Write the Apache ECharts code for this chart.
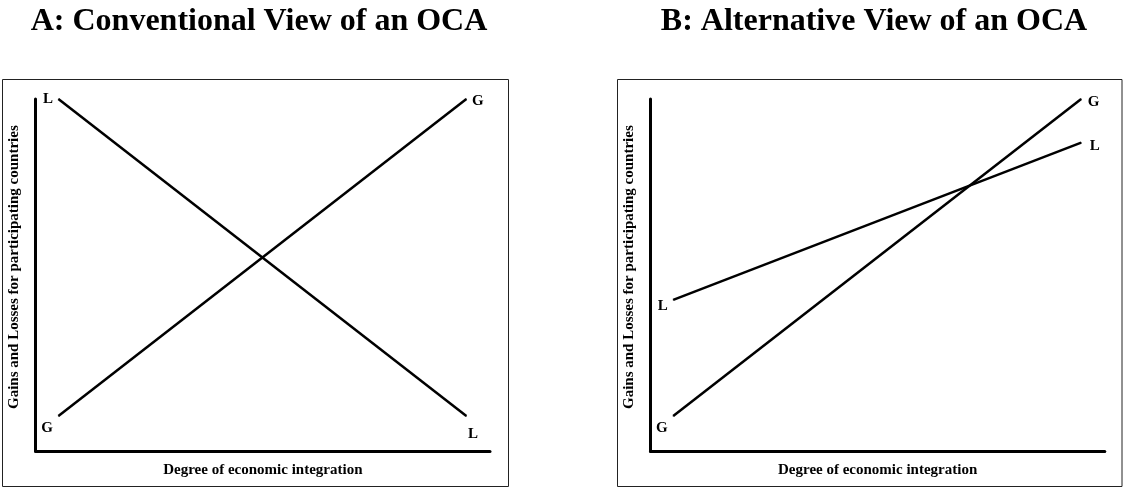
<!DOCTYPE html>
<html>
<head>
<meta charset="utf-8">
<script src="https://cdn.jsdelivr.net/npm/echarts@6/dist/echarts.min.js"></script>
<style>
  html, body { margin: 0; padding: 0; background: #fff; }
  #chart { width: 1123px; height: 489px; }
</style>
</head>
<body>
<div id="chart"></div>
<script>
// degree of integration at the two ends of each line
const xEnds = [5, 94.8];
// panel A: conventional view
const aGains = [10, 100];
const aLosses = [100, 10];
// panel B: alternative view
const bGains = [10, 100];
const bLosses = [43, 87.6];

const titles = ['A: Conventional View of an OCA', 'B: Alternative View of an OCA'];
const xName = 'Degree of economic integration';
const yName = 'Gains and Losses for participating countries';

const FONT = '"Liberation Serif", "Times New Roman", serif';

function pts(ys, labelStart, labelEnd) {
    return xEnds.map((x, i) => ({
        value: [x, ys[i]],
        label: i === 0 ? labelStart : labelEnd
    }));
}

function lineSeries(name, idx, ys, offStart, offEnd) {
    return {
        name: name,
        type: 'line',
        xAxisIndex: idx,
        yAxisIndex: idx,
        symbol: 'circle',
        symbolSize: 1,
        itemStyle: { color: '#000' },
        lineStyle: { color: '#000', width: 2.5 },
        label: {
            show: true,
            formatter: '{a}',
            color: '#000',
            fontFamily: FONT,
            fontWeight: 'bold',
            fontSize: 15
        },
        data: pts(ys,
            { position: 'left', offset: offStart },
            { position: 'right', offset: offEnd })
    };
}

function xAxisFor(idx) {
    return {
        gridIndex: idx,
        type: 'value',
        min: 0,
        max: 100,
        axisLine: { show: true, lineStyle: { color: '#000', width: 3 } },
        axisTick: { show: false },
        axisLabel: { show: false },
        splitLine: { show: false },
        name: xName,
        nameLocation: 'middle',
        nameGap: 11,
        nameTextStyle: { color: '#000', fontFamily: FONT, fontWeight: 'bold', fontSize: 15 }
    };
}

function yAxisFor(idx) {
    return {
        gridIndex: idx,
        type: 'value',
        min: 0,
        max: 100,
        axisLine: { show: true, lineStyle: { color: '#000', width: 3 } },
        axisTick: { show: false },
        axisLabel: { show: false },
        splitLine: { show: false },
        name: yName,
        nameLocation: 'middle',
        nameGap: 14,
        nameTextStyle: {
            color: '#000', fontFamily: FONT, fontWeight: 'bold', fontSize: 15,
            padding: [0, 0, 0, 16]
        }
    };
}

let option = {
    animation: false,
    backgroundColor: '#fff',
    title: [
        {
            text: titles[0], left: 254, top: 1, textAlign: 'center',
            textStyle: { color: '#000', fontFamily: FONT, fontWeight: 'bold', fontSize: 32 }
        },
        {
            text: titles[1], left: 869, top: 1, textAlign: 'center',
            textStyle: { color: '#000', fontFamily: FONT, fontWeight: 'bold', fontSize: 32 }
        }
    ],
    graphic: [
        { type: 'rect', shape: { x: 2.5, y: 79.5, width: 506, height: 407 },
          style: { fill: 'none', stroke: '#222', lineWidth: 1 }, z: -1 },
        { type: 'rect', shape: { x: 617.5, y: 79.5, width: 504.5, height: 407 },
          style: { fill: 'none', stroke: '#222', lineWidth: 1 }, z: -1 }
    ],
    grid: [
        { left: 35.7, top: 99, width: 454.3, height: 352.3 },
        { left: 650.5, top: 99, width: 454.3, height: 352.3 }
    ],
    xAxis: [xAxisFor(0), xAxisFor(1)],
    yAxis: [yAxisFor(0), yAxisFor(1)],
    series: [
        lineSeries('L', 0, aLosses, [0, 0], [-4, 18]),
        lineSeries('G', 0, aGains, [0, 12], [0, 2]),
        lineSeries('L', 1, bLosses, [0, 6], [3, 3]),
        lineSeries('G', 1, bGains, [0, 12], [1, 3])
    ]
};

var myChart = echarts.init(document.getElementById('chart'));
myChart.setOption(option);
</script>
</body>
</html>
